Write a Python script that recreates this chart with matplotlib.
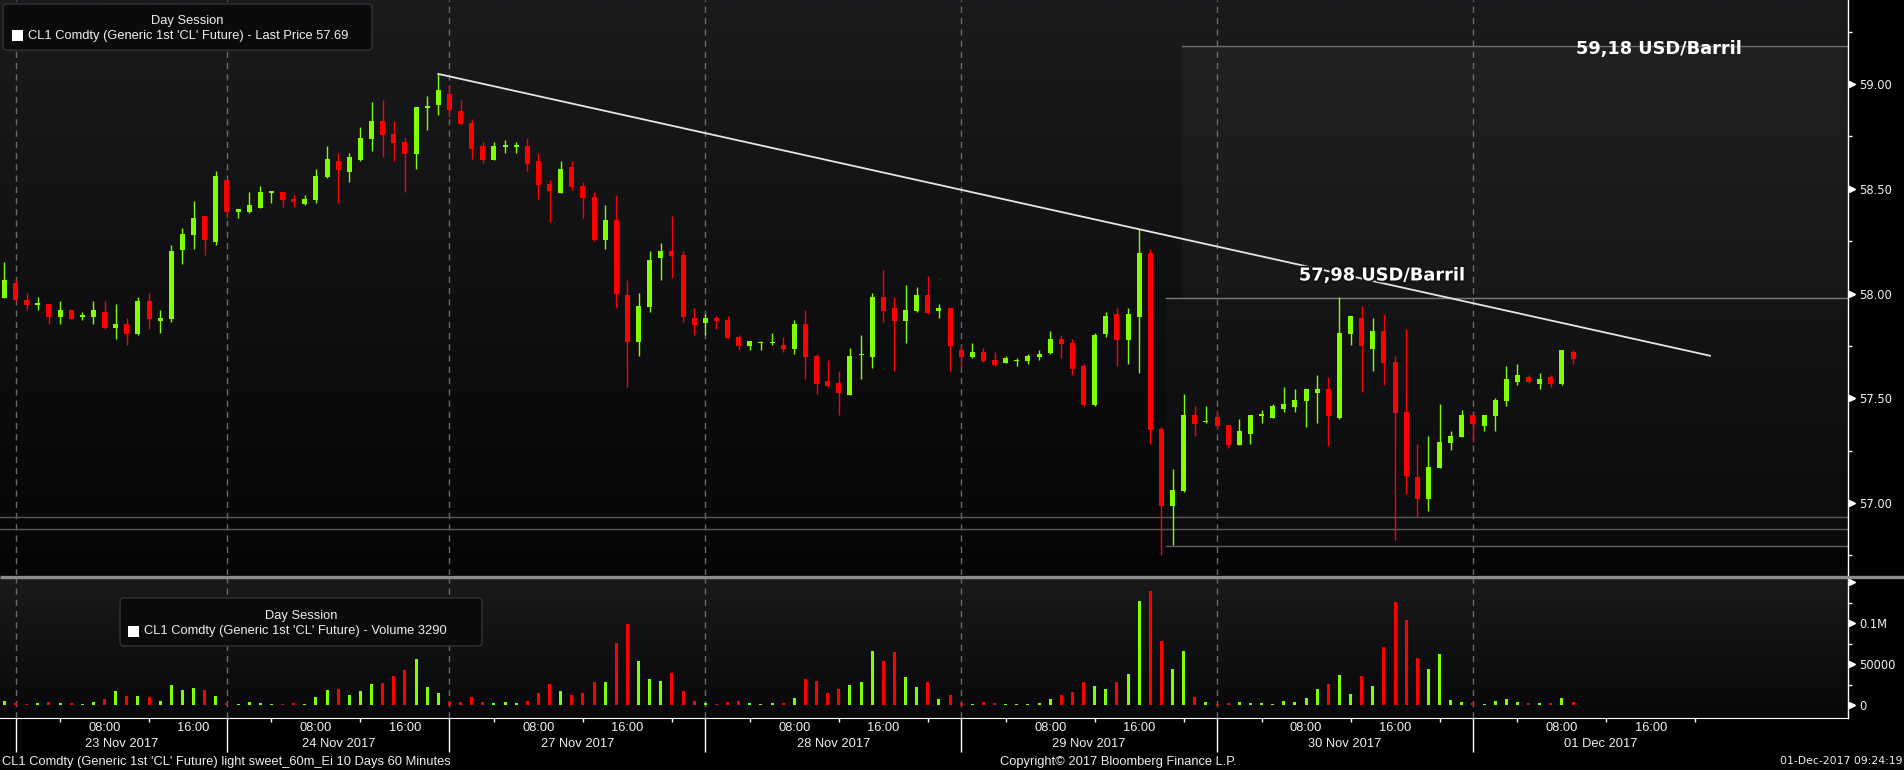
import matplotlib
matplotlib.use("Agg")
import matplotlib.pyplot as plt
import matplotlib.transforms as mtransforms
import matplotlib.patheffects as pe
from matplotlib.patches import Rectangle, FancyBboxPatch
from matplotlib.ticker import FixedLocator, FixedFormatter, FormatStrFormatter
import numpy as np

# CL1 Comdty, 60 minute bars (last bar of 22 Nov .. 01 Dec 2017 09:00)
opens = [57.98, 58.05, 57.97, 57.948, 57.95, 57.888, 57.921, 57.892, 57.888, 57.912,
         57.836, 57.855, 57.807, 57.964, 57.869, 57.879, 58.208, 58.28, 58.37, 58.246,
         58.542, 58.389, 58.389, 58.408, 58.484, 58.485, 58.451, 58.427, 58.446, 58.556,
         58.632, 58.58, 58.637, 58.737, 58.823, 58.761, 58.723, 58.666, 58.887, 58.9,
         58.952, 58.871, 58.814, 58.704, 58.637, 58.702, 58.70, 58.704, 58.632, 58.523,
         58.48, 58.604, 58.513, 58.461, 58.255, 58.351, 57.993, 57.768, 57.936, 58.169,
         58.203, 58.184, 57.883, 57.859, 57.883, 57.873, 57.792, 57.749, 57.764, 57.762,
         57.754, 57.735, 57.854, 57.702, 57.582, 57.573, 57.515, 57.708, 57.697, 57.983,
         57.931, 57.868, 57.916, 57.993, 57.916, 57.931, 57.73, 57.697, 57.721, 57.682,
         57.668, 57.68, 57.678, 57.697, 57.716, 57.783, 57.763, 57.654, 57.468, 57.806,
         57.902, 57.778, 57.888, 58.193, 57.353, 56.985, 57.057, 57.42, 57.389, 57.411,
         57.372, 57.277, 57.33, 57.418, 57.406, 57.45, 57.46, 57.487, 57.525, 57.544,
         57.406, 57.807, 57.883, 57.735, 57.821, 57.673, 57.434, 57.124, 57.019, 57.167,
         57.287, 57.315, 57.42, 57.368, 57.415, 57.487, 57.578, 57.602, 57.568, 57.602,
         57.568, 57.721]
highs = [58.15, 58.065, 58.003, 57.984, 57.95, 57.964, 57.921, 57.912, 57.964, 57.964,
         57.95, 57.883, 57.984, 58.003, 57.921, 58.232, 58.313, 58.442, 58.37, 58.584,
         58.542, 58.404, 58.484, 58.513, 58.487, 58.485, 58.47, 58.47, 58.594, 58.704,
         58.67, 58.67, 58.794, 58.914, 58.923, 58.823, 58.742, 58.89, 58.942, 59.048,
         58.99, 58.924, 58.833, 58.723, 58.723, 58.733, 58.723, 58.742, 58.671, 58.542,
         58.632, 58.632, 58.532, 58.484, 58.422, 58.47, 58.064, 58.002, 58.203, 58.241,
         58.37, 58.203, 57.931, 57.902, 57.893, 57.893, 57.802, 57.773, 57.773, 57.811,
         57.792, 57.873, 57.921, 57.711, 57.683, 57.63, 57.74, 57.802, 58.002, 58.112,
         57.983, 58.04, 58.031, 58.083, 57.95, 57.931, 57.754, 57.763, 57.74, 57.721,
         57.702, 57.692, 57.711, 57.73, 57.821, 57.802, 57.783, 57.664, 57.811, 57.911,
         57.931, 57.931, 58.308, 58.212, 57.362, 57.162, 57.52, 57.463, 57.463, 57.444,
         57.372, 57.401, 57.42, 57.444, 57.473, 57.554, 57.544, 57.544, 57.611, 57.602,
         57.983, 57.893, 57.94, 57.883, 57.902, 57.702, 57.831, 57.282, 57.32, 57.473,
         57.344, 57.444, 57.42, 57.42, 57.501, 57.654, 57.664, 57.611, 57.621, 57.611,
         57.73, 57.73]
lows = [57.98, 57.966, 57.921, 57.921, 57.855, 57.855, 57.879, 57.874, 57.855, 57.831,
        57.783, 57.754, 57.802, 57.831, 57.812, 57.864, 58.141, 58.213, 58.184, 58.232,
        58.361, 58.361, 58.384, 58.408, 58.432, 58.413, 58.413, 58.423, 58.432, 58.551,
        58.432, 58.532, 58.632, 58.68, 58.651, 58.632, 58.484, 58.594, 58.78, 58.852,
        58.844, 58.806, 58.642, 58.623, 58.637, 58.671, 58.671, 58.585, 58.451, 58.341,
        58.48, 58.494, 58.36, 58.25, 58.212, 57.931, 57.554, 57.702, 57.912, 58.064,
        58.074, 57.864, 57.802, 57.802, 57.831, 57.783, 57.73, 57.73, 57.73, 57.754,
        57.721, 57.711, 57.592, 57.52, 57.554, 57.42, 57.515, 57.592, 57.644, 57.864,
        57.63, 57.763, 57.912, 57.902, 57.883, 57.63, 57.644, 57.692, 57.673, 57.654,
        57.668, 57.654, 57.664, 57.682, 57.711, 57.692, 57.611, 57.463, 57.463, 57.792,
        57.654, 57.663, 57.62, 57.281, 56.751, 56.799, 57.052, 57.32, 57.382, 57.353,
        57.263, 57.277, 57.282, 57.382, 57.406, 57.434, 57.434, 57.363, 57.382, 57.272,
        57.401, 57.754, 57.53, 57.63, 57.563, 56.824, 57.043, 56.933, 56.962, 57.167,
        57.253, 57.315, 57.291, 57.344, 57.344, 57.463, 57.563, 57.573, 57.544, 57.554,
        57.563, 57.664]
closes = [58.064, 57.971, 57.945, 57.952, 57.888, 57.921, 57.879, 57.895, 57.921, 57.836,
          57.855, 57.807, 57.964, 57.879, 57.883, 58.203, 58.284, 58.361, 58.256, 58.561,
          58.389, 58.404, 58.423, 58.485, 58.487, 58.447, 58.437, 58.451, 58.561, 58.642,
          58.589, 58.651, 58.742, 58.823, 58.756, 58.718, 58.666, 58.89, 58.892, 58.971,
          58.877, 58.811, 58.69, 58.637, 58.704, 58.705, 58.711, 58.62, 58.518, 58.489,
          58.594, 58.508, 58.456, 58.255, 58.351, 57.998, 57.768, 57.94, 58.16, 58.203,
          58.179, 57.888, 57.85, 57.883, 57.869, 57.788, 57.749, 57.773, 57.767, 57.768,
          57.735, 57.854, 57.697, 57.568, 57.558, 57.525, 57.701, 57.712, 57.983, 57.916,
          57.868, 57.921, 57.993, 57.907, 57.931, 57.749, 57.697, 57.721, 57.678, 57.659,
          57.692, 57.682, 57.702, 57.711, 57.783, 57.759, 57.639, 57.468, 57.802, 57.892,
          57.778, 57.902, 58.193, 57.348, 56.985, 57.062, 57.42, 57.377, 57.391, 57.368,
          57.277, 57.344, 57.42, 57.42, 57.463, 57.473, 57.492, 57.544, 57.544, 57.415,
          57.812, 57.893, 57.75, 57.821, 57.668, 57.43, 57.129, 57.019, 57.172, 57.291,
          57.32, 57.42, 57.377, 57.42, 57.492, 57.592, 57.611, 57.578, 57.592, 57.568,
          57.73, 57.687]
volumes = [4900, 2000, 1000, 2000, 3300, 2000, 2000, 1200, 3300, 7300,
           17000, 11000, 11000, 9800, 4900, 24400, 18300, 20700, 18300, 11000,
           2000, 1200, 3300, 2000, 1200, 1200, 2000, 1200, 9800, 18300,
           19500, 12200, 17000, 25600, 26800, 35400, 42700, 56100, 22000, 14600,
           3700, 3700, 9800, 3300, 2400, 3700, 2400, 4900, 14600, 25600,
           17000, 12200, 14600, 28000, 28000, 75600, 98800, 53700, 31700, 29300,
           39000, 17000, 4900, 2400, 1200, 3700, 4900, 2400, 1200, 2400,
           2400, 8500, 31700, 29300, 14600, 19500, 24400, 28000, 65900, 53700,
           64600, 34100, 22000, 28000, 7300, 12200, 2400, 1200, 3300, 2400,
           1200, 1200, 1200, 2400, 7300, 12200, 15900, 28000, 23200, 19500,
           28000, 37800, 126800, 139000, 78000, 43900, 65900, 9800, 3700, 1200,
           2400, 3700, 2400, 2400, 1200, 4900, 3700, 8500, 19500, 25600,
           36600, 13400, 35400, 23200, 70700, 125600, 103700, 57300, 43900, 62200,
           6100, 3700, 2400, 1200, 4900, 7300, 3700, 2400, 2400, 2400,
           8500, 3290]

# bar index where each session starts
day_starts = [1, 20, 40, 63, 86, 109, 132]
day_names = ["23 Nov 2017", "24 Nov 2017", "27 Nov 2017", "28 Nov 2017",
             "29 Nov 2017", "30 Nov 2017", "01 Dec 2017"]
hour_labels = ["08:00", "16:00"]

# drawn levels
trend_x = [39, 153.3]
trend_y = [59.048, 57.703]
level_high = 59.18
level_mid = 57.98
level_low = 56.795
support_lines = [56.932, 56.874]

price_ticks = [57.0, 57.5, 58.0, 58.5, 59.0]
price_minor = [56.75, 57.25, 57.75, 58.25, 58.75, 59.25]
vol_ticks = [0, 50000, 100000, 150000]
vol_labels = ["0", "50000", "0.1M", ""]
vol_minor = [25000, 75000, 125000]

GREEN = "#80ff00"
RED = "#ff0000"
TXT = "#f0f0f0"
NARROW = ["Liberation Sans", "DejaVu Sans"]

W, H = 1904, 770
fig = plt.figure(figsize=(W / 100, H / 100), dpi=100, facecolor="black")

ax_p = fig.add_axes([0, 0.25325, 0.97059, 0.74675])
ax_v = fig.add_axes([0, 0.06753, 0.97059, 0.18182])
ov = fig.add_axes([0, 0, 1, 1], zorder=10)
ov.set_xlim(0, W)
ov.set_ylim(H, 0)
ov.axis("off")
ov.patch.set_visible(False)


def gradient(ax, top, bottom):
    g = np.linspace(0, 1, 256)[:, None, None]
    c0 = np.array(matplotlib.colors.to_rgb(top))
    c1 = np.array(matplotlib.colors.to_rgb(bottom))
    img = c0 * (1 - g) + c1 * g
    ax.imshow(img, extent=(0, 1, 0, 1), transform=ax.transAxes,
              aspect="auto", origin="upper", zorder=0)


gradient(ax_p, "#1b1b1e", "#050508")
gradient(ax_v, "#1a1a1d", "#08080b")

o = np.array(opens)
h = np.array(highs)
l = np.array(lows)
c = np.array(closes)
x = np.arange(len(o))
cols = np.where(c >= o, GREEN, RED)

x_left, x_right = -0.402, 165.71

# shaded ranges and levels
ax_p.add_patch(Rectangle((105.85, level_mid), x_right - 105.85, level_high - level_mid,
                         facecolor="white", alpha=0.035, edgecolor="none", zorder=1))
ax_p.add_patch(Rectangle((104.4, level_low), x_right - 104.4, level_mid - level_low,
                         facecolor="white", alpha=0.025, edgecolor="none", zorder=1))
ax_p.plot([105.85, x_right], [level_high] * 2, color="#6e6e6e", lw=1, zorder=2)
ax_p.plot([104.4, x_right], [level_mid] * 2, color="#7a7a7a", lw=1, zorder=2)
ax_p.plot([104.4, x_right], [level_low] * 2, color="#5e5e5e", lw=1, zorder=2)
for s in support_lines:
    ax_p.axhline(s, color="#5a5a5a", lw=1, zorder=2)

for ax in (ax_p, ax_v):
    for d in day_starts:
        ax.axvline(d, color="#6a6a6a", lw=1, ls=(0, (4.5, 3.6)), zorder=1)

# candles
ax_p.vlines(x, l, h, colors=cols, lw=1.0, zorder=3)
body = np.maximum(np.abs(c - o), 0.007)
ax_p.bar(x, body, bottom=(o + c) / 2 - body / 2, width=0.45, color=cols,
         linewidth=0, zorder=3)

ax_p.plot(trend_x, trend_y, color="#e6e6e6", lw=1.3, zorder=4)

ax_p.text(148.7, 59.165, "59,18 USD/Barril", color="white", fontsize=12.8,
          fontweight="bold", ha="center", va="center", zorder=6)
ax_p.text(123.8, 58.086, "57,98 USD/Barril", color="white", fontsize=12.8,
          fontweight="bold", ha="center", va="center", zorder=6,
          path_effects=[pe.withStroke(linewidth=2.5, foreground="#111114")])

# volume
ax_v.bar(x, volumes, width=0.27, color=cols, linewidth=0, zorder=3)

ax_p.set_xlim(x_left, x_right)
ax_v.set_xlim(x_left, x_right)
ax_p.set_ylim(56.6563, 59.401)
ax_v.set_ylim(-15850, 154900)

for ax in (ax_p, ax_v):
    ax.set_facecolor("none")
    for side in ("left", "top", "bottom"):
        ax.spines[side].set_visible(False)
    ax.spines["right"].set_color("white")
    ax.spines["right"].set_linewidth(1)
    ax.yaxis.tick_right()
    ax.tick_params(axis="y", which="major", colors=TXT, length=4.3, width=1,
                   pad=3.5, labelsize=8.3)
    ax.tick_params(axis="y", which="minor", colors="white", length=3, width=1)

ax_p.yaxis.set_major_locator(FixedLocator(price_ticks))
ax_p.yaxis.set_minor_locator(FixedLocator(price_minor))
ax_p.yaxis.set_major_formatter(FormatStrFormatter("%.2f"))
ax_p.tick_params(axis="x", which="both", bottom=False, labelbottom=False)

ax_v.yaxis.set_major_locator(FixedLocator(vol_ticks))
ax_v.yaxis.set_major_formatter(FixedFormatter(vol_labels))
ax_v.yaxis.set_minor_locator(FixedLocator(vol_minor))

# arrow heads on the major ticks
for ax, ticks in ((ax_p, price_ticks), (ax_v, vol_ticks)):
    tr = mtransforms.blended_transform_factory(ax.transAxes, ax.transData)
    ax.plot([1.0022] * len(ticks), ticks, ls="none", marker=">", ms=4,
            color="white", transform=tr, clip_on=False, zorder=5)

# time axis
ax_v.spines["bottom"].set_visible(True)
ax_v.spines["bottom"].set_color("white")
minor_x = []
bounds = day_starts + [day_starts[-1] + 23]
for i, d in enumerate(day_starts):
    for k in (4, 12, 20):
        if d + k < bounds[i + 1]:
            minor_x.append(d + k)
ax_v.xaxis.set_major_locator(FixedLocator(day_starts))
ax_v.xaxis.set_minor_locator(FixedLocator(minor_x))
ax_v.tick_params(axis="x", which="major", colors="white", length=24.3, width=1,
                 labelbottom=False)
ax_v.tick_params(axis="x", which="minor", colors="white", length=3, width=1)

bt = mtransforms.blended_transform_factory(ax_v.transData, ov.transData)
for i, d in enumerate(day_starts):
    for k, lab in zip((8, 16), hour_labels):
        ov.text(d + k, 728, lab, transform=bt, color=TXT, fontsize=9.3,
                family=NARROW, ha="center", va="center")
    ov.text((d + bounds[i + 1]) / 2, 744, day_names[i], transform=bt, color=TXT,
            fontsize=9.3, family=NARROW, ha="center", va="center")

# separator between panels
ov.plot([0, W], [577, 577], color="#8c8c8c", lw=2.4, solid_capstyle="butt")

# legends
for (bx0, by0, bx1, by1), label, cy1, cy2, cx, sq in (
        ((3, 4, 372, 50), "CL1 Comdty (Generic 1st 'CL' Future) - Last Price 57.69",
         20.7, 35.7, 187.5, (12, 30)),
        ((120, 598, 482, 646), "CL1 Comdty (Generic 1st 'CL' Future) - Volume 3290",
         615.7, 631, 301, (128, 626))):
    ov.add_patch(FancyBboxPatch((bx0, by0), bx1 - bx0, by1 - by0,
                                boxstyle="round,pad=0,rounding_size=4",
                                facecolor="#0b0b0e", edgecolor="#333336", lw=1))
    ov.text(cx, cy1, "Day Session", color=TXT, fontsize=9.3, family=NARROW,
            ha="center", va="center")
    ov.add_patch(Rectangle(sq, 11, 10.5, facecolor="white", edgecolor="none"))
    ov.text(sq[0] + 16, cy2, label, color=TXT, fontsize=9.3, family=NARROW,
            ha="left", va="center")

# footer
ov.text(2, 761.5, "CL1 Comdty (Generic 1st 'CL' Future) light sweet_60m_Ei 10 Days 60 Minutes",
        color=TXT, fontsize=9.3, family=NARROW, ha="left", va="center")
ov.text(1118, 761.5, "Copyright\u00a9 2017 Bloomberg Finance L.P.", color=TXT,
        fontsize=9.3, family=NARROW, ha="center", va="center")
ov.text(1902, 761.5, "01-Dec-2017 09:24:19", color=TXT, fontsize=7.8,
        ha="right", va="center")

fig.savefig("out.png", dpi=100, facecolor="black")
